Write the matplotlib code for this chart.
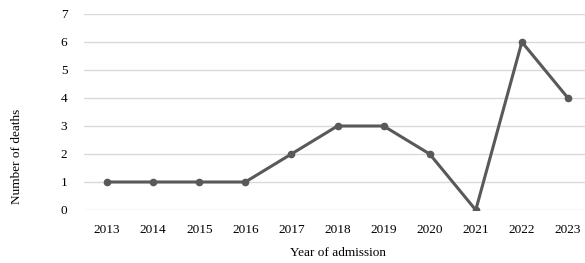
import matplotlib
matplotlib.use("Agg")
import matplotlib.pyplot as plt

years = ["2013", "2014", "2015", "2016", "2017", "2018", "2019", "2020", "2021", "2022", "2023"]
deaths = [1, 1, 1, 1, 2, 3, 3, 2, 0, 6, 4]
yticks = [0, 1, 2, 3, 4, 5, 6, 7]

plt.rcParams['font.family'] = ['Liberation Serif', 'DejaVu Serif']

fig = plt.figure(figsize=(5.85, 2.63), dpi=100)
W, H = 585, 263
left, right, top, bottom = 84, 591, 14, 210
ax = fig.add_axes([left / W, 1 - bottom / H, (right - left) / W, (bottom - top) / H])

x = list(range(len(years)))
ax.plot(x, deaths, color="#595959", linewidth=2.2, marker="o", markersize=4.5, zorder=3)

ax.set_xlim(-0.5, len(years) - 0.5)
ax.set_ylim(0, 7)
ax.set_yticks(yticks)
ax.set_xticks(x)
ax.set_xticklabels(years)
ax.yaxis.grid(True, color="#d9d9d9", linewidth=1)
ax.set_axisbelow(True)
for s in ax.spines.values():
    s.set_visible(False)
ax.tick_params(axis="both", length=0, labelsize=9.5, colors="#000000")
ax.tick_params(axis="x", pad=10)
ax.tick_params(axis="y", pad=12)
ax.set_xlabel("Year of admission", fontsize=9.5, labelpad=8)
ax.set_ylabel("Number of deaths", fontsize=9.5)
ax.yaxis.set_label_coords(-0.121, 0.275)

fig.savefig("out.png", dpi=100)
